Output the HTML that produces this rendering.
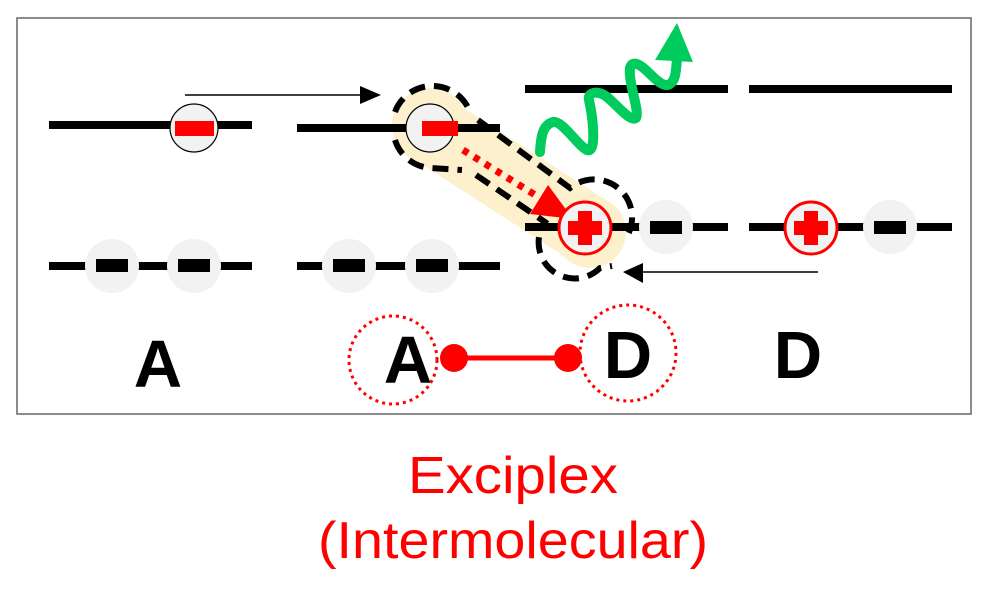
<!DOCTYPE html>
<html><head><meta charset="utf-8"><style>html,body{margin:0;padding:0;background:#fff}svg{display:block}</style></head>
<body>
<svg width="993" height="595" viewBox="0 0 993 595" xmlns="http://www.w3.org/2000/svg">
<defs>
<filter id="sh" x="-50%" y="-50%" width="200%" height="200%"><feGaussianBlur stdDeviation="4"/></filter>
</defs>
<rect x="17" y="18" width="954" height="396" fill="#fff" stroke="#666" stroke-width="1.5"/>

<!-- left A -->
<line x1="49" y1="125" x2="252" y2="125" stroke="#000" stroke-width="8"/>
<circle cx="194" cy="128" r="24" fill="#f2f2f2" stroke="#000" stroke-width="1.2"/>
<rect x="175" y="121" width="39" height="15" fill="#f00"/>
<line x1="185" y1="95" x2="365" y2="95" stroke="#000" stroke-width="1.5"/>
<polygon points="360,86 381,95 360,104" fill="#000"/>
<line x1="49" y1="266" x2="252" y2="266" stroke="#000" stroke-width="8"/>
<circle cx="112" cy="266" r="27" fill="#f2f2f2"/>
<circle cx="194" cy="266" r="27" fill="#f2f2f2"/>
<rect x="96" y="259" width="32" height="13" fill="#000"/>
<rect x="178" y="259" width="32" height="13" fill="#000"/>

<!-- middle -->
<line x1="297" y1="266" x2="500" y2="266" stroke="#000" stroke-width="8"/>
<circle cx="349" cy="266" r="27" fill="#f2f2f2"/>
<circle cx="432" cy="266" r="27" fill="#f2f2f2"/>
<rect x="333" y="259" width="32" height="13" fill="#000"/>
<rect x="416" y="259" width="32" height="13" fill="#000"/>
<line x1="297" y1="128" x2="500" y2="128" stroke="#000" stroke-width="8"/>

<!-- blob -->
<g>
<path d="M430,128 L588,230" stroke="#fdf0cc" stroke-width="70" stroke-linecap="round"/>
<circle cx="430" cy="126" r="38" fill="#fdf0cc"/>
<circle cx="590" cy="232" r="36" fill="#fdf0cc"/>
<path d="M395,112 A40,40 0 0 1 470,112" fill="none" stroke="#000" stroke-width="6" stroke-dasharray="16,9"/>
<path d="M395,140 A40,40 0 0 0 430,168 L462,170" fill="none" stroke="#000" stroke-width="6" stroke-dasharray="16,9"/>
<path d="M478,120 L570,188 A38,38 0 0 1 626,238" fill="none" stroke="#000" stroke-width="6" stroke-dasharray="16,9"/>
<path d="M476,175 L545,222 A36,36 0 0 0 600,268 L612,266" fill="none" stroke="#000" stroke-width="6" stroke-dasharray="16,9"/>
</g>
<line x1="297" y1="128" x2="500" y2="128" stroke="#000" stroke-width="8" stroke-dasharray="0,65,140"/>
<circle cx="430" cy="128" r="24" fill="#f2f2f2" stroke="#000" stroke-width="1.2"/>
<rect x="422" y="121" width="36" height="15" fill="#f00"/>
<line x1="463" y1="150" x2="540" y2="198" stroke="#f00" stroke-width="7" stroke-dasharray="6,7"/>
<polygon points="548,185 573,219 530,214" fill="#f00"/>

<!-- right D -->
<line x1="525" y1="89" x2="728" y2="89" stroke="#000" stroke-width="8"/>
<line x1="749" y1="89" x2="952" y2="89" stroke="#000" stroke-width="8"/>
<line x1="525" y1="227" x2="728" y2="227" stroke="#000" stroke-width="8"/>
<line x1="749" y1="227" x2="952" y2="227" stroke="#000" stroke-width="8"/>
<circle cx="666" cy="227" r="27" fill="#f2f2f2"/>
<rect x="650" y="221" width="32" height="13" fill="#000"/>
<circle cx="890" cy="227" r="27" fill="#f2f2f2"/>
<rect x="874" y="221" width="32" height="13" fill="#000"/>
<g>
<circle cx="585" cy="228" r="26" fill="#f2f2f2" stroke="#f00" stroke-width="3"/>
<rect x="568" y="221" width="34" height="14" fill="#f00"/><rect x="578" y="211" width="14" height="34" fill="#f00"/>
</g>
<g>
<circle cx="811" cy="228" r="26" fill="#f2f2f2" stroke="#f00" stroke-width="3"/>
<rect x="794" y="221" width="34" height="14" fill="#f00"/><rect x="804" y="211" width="14" height="34" fill="#f00"/>
</g>
<line x1="818" y1="272" x2="640" y2="272" stroke="#000" stroke-width="1.5"/>
<polygon points="643,263 623,272 643,283" fill="#000"/>

<!-- green wave -->
<path d="M540,152 C541,135 543,125 553,122 C562,120 578,146 587,150 C597,154 593,118 589,100 C587,92 598,90 607,97 C618,106 630,122 636,118 C640,112 628,82 630,68 C632,60 640,64 648,72 C656,80 664,88 670,84 C676,80 676,70 677,58" fill="none" stroke="#00cc5e" stroke-width="10" stroke-linecap="round" stroke-linejoin="round"/>
<polygon points="655,60 677,23 693,62" fill="#00cc5e"/>

<!-- labels -->
<text x="158" y="387" font-family="Liberation Sans, sans-serif" font-weight="bold" font-size="67" text-anchor="middle">A</text>
<circle cx="393" cy="360" r="44" fill="none" stroke="#f00" stroke-width="3" stroke-dasharray="3,4"/>
<circle cx="628" cy="353" r="48" fill="none" stroke="#f00" stroke-width="3" stroke-dasharray="3,4"/>
<g filter="url(#sh)" opacity="0.4"><line x1="458" y1="370" x2="570" y2="370" stroke="#000" stroke-width="8"/></g>
<text x="408" y="383" font-family="Liberation Sans, sans-serif" font-weight="bold" font-size="67" text-anchor="middle">A</text>
<text x="628" y="378" font-family="Liberation Sans, sans-serif" font-weight="bold" font-size="67" text-anchor="middle">D</text>
<text x="798" y="378" font-family="Liberation Sans, sans-serif" font-weight="bold" font-size="67" text-anchor="middle">D</text>
<line x1="454" y1="358" x2="568" y2="358" stroke="#f00" stroke-width="5"/>
<circle cx="454" cy="358" r="14" fill="#f00"/>
<circle cx="568" cy="358" r="14" fill="#f00"/>

<text x="513" y="493" font-family="Liberation Sans, sans-serif" font-size="52" fill="#f00" text-anchor="middle" textLength="210" lengthAdjust="spacingAndGlyphs">Exciplex</text>
<text x="513" y="558" font-family="Liberation Sans, sans-serif" font-size="52" fill="#f00" text-anchor="middle" textLength="390" lengthAdjust="spacingAndGlyphs">(Intermolecular)</text>
</svg>
</body></html>
